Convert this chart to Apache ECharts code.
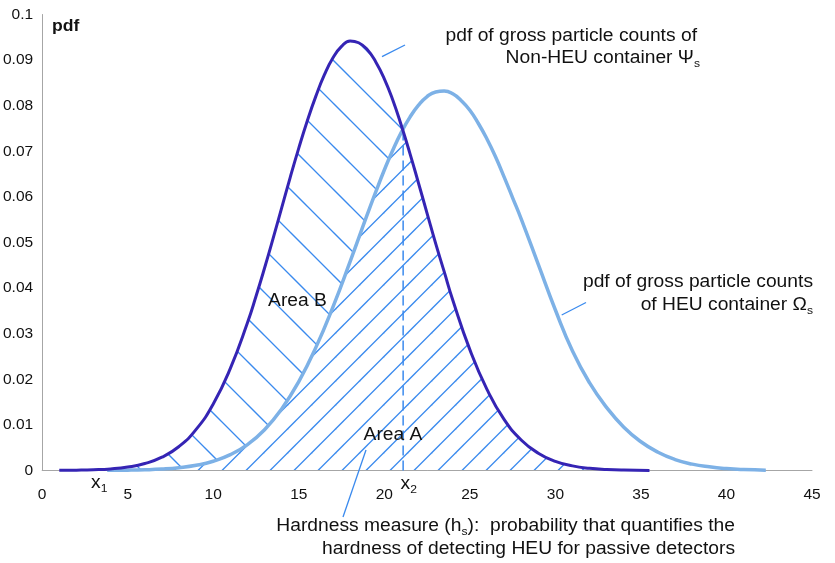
<!DOCTYPE html>
<html><head><meta charset="utf-8">
<script src="https://cdn.jsdelivr.net/npm/echarts/dist/echarts.min.js"></script>
<style>html,body{margin:0;padding:0;background:#fff}#chart{width:835px;height:563px}</style>
</head><body><div id="chart"></div>
<script>
// ---- data ----
const xTicks = [0, 45, 5];          // min, max, interval
const yTicks = [0, 0.1, 0.01];      // min, max, interval
// Non-HEU container pdf (dark curve)
const darkX = [1,2,3,4,5,6,7,8,9,10,11,12,12.5,13,13.5,14,14.5,15,15.5,16,16.5,17,17.5,18,18.5,19,19.5,20,20.5,21,21.5,22,22.5,23,23.5,24,25,26,27,28,29,30,31,32,33,34,35.5];
const darkY = [0.00003,0.00007,0.00016,0.00035,0.00076,0.00153,0.00292,0.00527,0.00901,0.0146,0.0224,0.0324,0.0382,0.0444,0.0509,0.0576,0.0643,0.0707,0.0767,0.0821,0.0868,0.0905,0.0930,0.0942,0.0938,0.0923,0.0896,0.0859,0.0812,0.0756,0.0695,0.0630,0.0564,0.0498,0.0436,0.0374,0.0265,0.0178,0.0112,0.0067,0.0038,0.0020,0.00101,0.00048,0.00022,0.00009,0.00002];
// HEU container pdf (light curve)
const lightX = [3.8,5,6,7,8,9,10,11,12,13,14,15,16,17,18,19,19.5,20,20.5,21,21.5,22,22.5,23,23.5,24,24.5,25,25.5,26,26.5,27,27.5,28,29,30,31,32,33,34,35,36,37,38,39,40,41,42.3];
const lightY = [0.00003,0.000075,0.00016,0.00032,0.00062,0.00114,0.00203,0.00347,0.00569,0.00894,0.0135,0.0195,0.0270,0.0359,0.0458,0.0561,0.0611,0.0659,0.0703,0.0742,0.0775,0.0801,0.0820,0.0830,0.0832,0.0826,0.0811,0.0790,0.0761,0.0727,0.0688,0.0644,0.0598,0.0552,0.0452,0.0352,0.0262,0.0192,0.0138,0.0095,0.0063,0.0040,0.0024,0.0014,0.0008,0.00042,0.00021,0.00008];
// crossing point x2 of the two curves
const x2 = 21.1;
const x2Top = 0.0748;

// ---- styling ----
const DARK = '#3524b4', LIGHT = '#7db1e6', HATCH = '#3a8aee', AXIS = '#a6a6a6';
const FONT = 'Liberation Sans, Arial, sans-serif';
const SX = 1.1;

const pairs = (xs, ys) => xs.map((x, i) => [x, ys[i]]);
const darkData = pairs(darkX, darkY);
const lightData = pairs(lightX, lightY);
// area under the lower of the two curves (Area A)
const minData = lightData.filter(p => p[0] <= x2).concat(darkData.filter(p => p[0] > x2));

function hatch(size, dir, c, bg) {
  const cv = document.createElement('canvas');
  cv.width = cv.height = size;
  const g = cv.getContext('2d');
  if (bg) { g.fillStyle = bg; g.fillRect(0, 0, size, size); }
  g.strokeStyle = HATCH; g.lineWidth = 1.3;
  for (let k = -2; k <= 2; k++) {
    const cc = c + k * size;
    g.beginPath();
    if (dir === '/') { g.moveTo(cc - size - 10, size + 10); g.lineTo(cc + 10, -10); }
    else { g.moveTo(cc - 10, -10); g.lineTo(cc + size + 10, size + 10); }
    g.stroke();
  }
  return cv;
}
const patA = { image: hatch(24, '/', 20.5, '#ffffff'), repeat: 'repeat' };
const patB = { image: hatch(43, '\\', 15, null), repeat: 'repeat' };

const chart = echarts.init(document.getElementById('chart'), null, { renderer: 'canvas' });
const txt = (x, y, text, align) => ({
  type: 'text', x: x, y: y, scaleX: SX, silent: true, z: 100,
  style: { text: text, fill: '#111', font: '17.5px ' + FONT, align: align, verticalAlign: 'middle', lineHeight: 22,
    rich: { s: { fontSize: 11, fontFamily: FONT, lineHeight: 12, verticalAlign: 'bottom', fill: '#111' } } }
});
const seg = (x1, y1, xb, yb) => ({ type: 'line', silent: true, z: 100, shape: { x1: x1, y1: y1, x2: xb, y2: yb }, style: { stroke: HATCH, lineWidth: 1.3 } });

chart.setOption({
  animation: false,
  backgroundColor: '#fff',
  grid: { left: 42, right: 23, top: 14.5, bottom: 92.5 },
  xAxis: {
    type: 'value', min: xTicks[0], max: xTicks[1], interval: xTicks[2], z: 2.5,
    axisLine: { show: true, lineStyle: { color: AXIS, width: 1 } },
    axisTick: { show: false }, splitLine: { show: false },
    axisLabel: { color: '#111', fontSize: 15.5, fontFamily: FONT, margin: 16 }
  },
  yAxis: {
    type: 'value', min: yTicks[0], max: yTicks[1], interval: yTicks[2],
    axisLine: { show: true, lineStyle: { color: AXIS, width: 1 } },
    axisTick: { show: false }, splitLine: { show: false },
    axisLabel: { color: '#111', fontSize: 15.5, fontFamily: FONT, margin: 9 }
  },
  series: [
    { name: 'areaB', type: 'line', z: 1, data: darkData, smooth: true, showSymbol: false, silent: true,
      lineStyle: { opacity: 0 }, areaStyle: { color: patB, opacity: 1 } },
    { name: 'areaA', type: 'line', z: 2, data: minData, smooth: true, showSymbol: false, silent: true,
      lineStyle: { opacity: 0 }, areaStyle: { color: patA, opacity: 1 } },
    { name: 'x2', type: 'line', z: 3, data: [[x2, 0], [x2, x2Top]], showSymbol: false, silent: true,
      lineStyle: { color: HATCH, width: 1.5, type: [10, 5] } },
    { name: 'HEU', type: 'line', z: 4, data: lightData, smooth: true, showSymbol: false, silent: true,
      lineStyle: { color: LIGHT, width: 3.5 } },
    { name: 'Non-HEU', type: 'line', z: 5, data: darkData, smooth: true, showSymbol: false, silent: true,
      lineStyle: { color: DARK, width: 3 } }
  ],
  graphic: [
    { type: 'text', x: 52, y: 26.5, scaleX: SX, silent: true, z: 100,
      style: { text: 'pdf', fill: '#111', font: 'bold 16px ' + FONT, align: 'left', verticalAlign: 'middle' } },
    txt(697, 36, 'pdf of gross particle counts of', 'right'),
    txt(700, 58, 'Non-HEU container Ψ{s|s}', 'right'),
    txt(813, 282.5, 'pdf of gross particle counts', 'right'),
    txt(813, 305.5, 'of HEU container Ω{s|s}', 'right'),
    txt(735, 526, 'Hardness measure (h{s|s}):  probability that quantifies the', 'right'),
    txt(735, 549.5, 'hardness of detecting HEU for passive detectors', 'right'),
    txt(297.5, 301, 'Area B', 'center'),
    txt(393, 435, 'Area A', 'center'),
    txt(91, 483, 'x{s|1}', 'left'),
    txt(400.5, 484.5, 'x{s|2}', 'left'),
    seg(382, 56.7, 405, 45),
    seg(561.7, 315, 586, 302.5),
    seg(366, 450, 343, 517)
  ]
});
</script>
</body></html>
